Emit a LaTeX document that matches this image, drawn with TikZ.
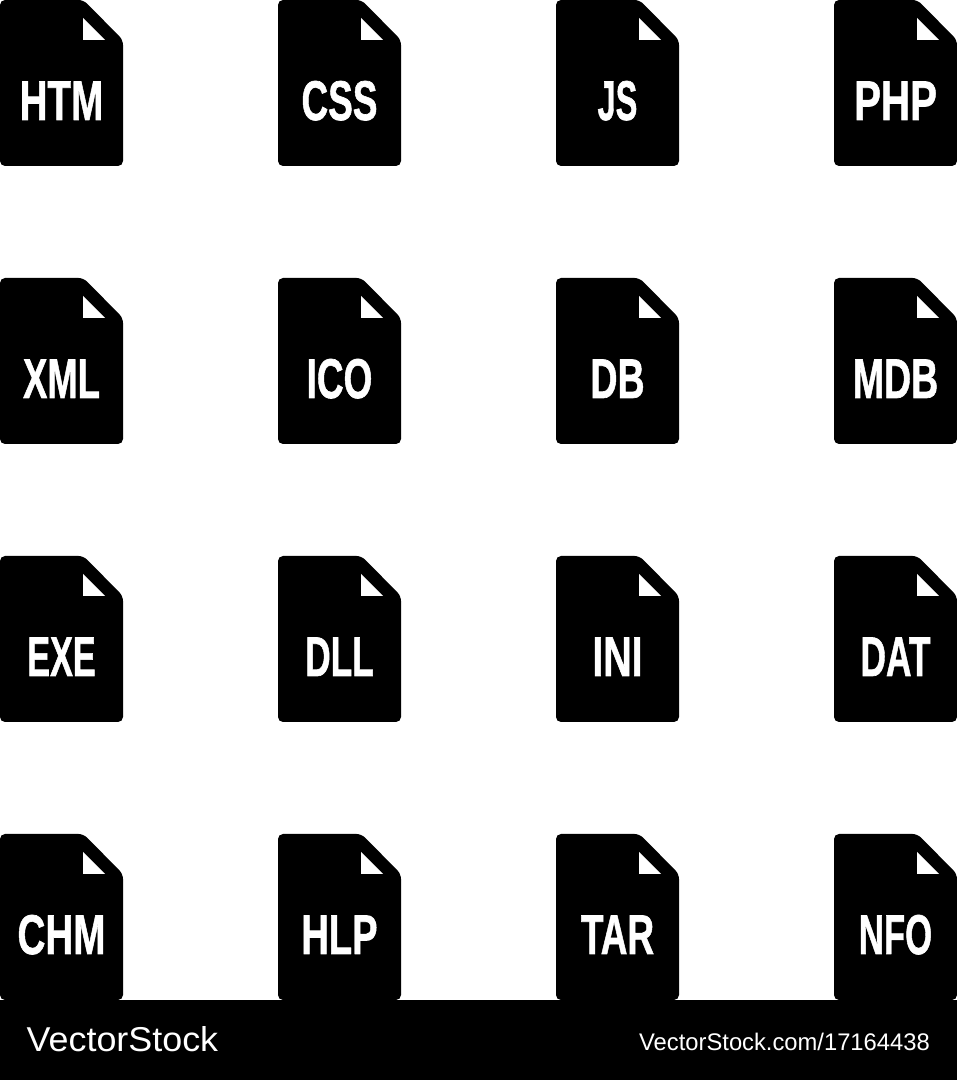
\documentclass[tikz,border=0pt]{standalone}
\usepackage{fontspec}
\setmainfont{Liberation Sans}
\newfontfamily\labelfont[FakeBold=1.2]{Liberation Sans Bold}
\tikzset{
  sheet/.style={fill=black, rounded corners=5pt},
  fold/.style={fill=white},
  extlabel/.style={text=white, anchor=base, inner sep=0pt, font=\labelfont\fontsize{56}{60}\selectfont},
  brand/.style={text=white, anchor=base west, inner sep=0pt}
}
\begin{document}
\begin{tikzpicture}[x=1pt,y=1pt]
        \useasboundingbox (0,0) rectangle (957,1080);
        \fill[white] (0,0) rectangle (957,1080);
        \foreach \lbl/\sx/\col/\row in {HTM/0.69/0/0, CSS/0.66/278/0, JS/0.58/556/0, PHP/0.72/834/0,
            XML/0.65/0/278, ICO/0.66/278/278, DB/0.67/556/278, MDB/0.67/834/278,
            EXE/0.61/0/556, DLL/0.63/278/556, INI/0.7/556/556, DAT/0.63/834/556,
            CHM/0.69/0/834, HLP/0.68/278/834, TAR/0.66/556/834, NFO/0.62/834/834}
        {
        \begin{scope}[shift={(\col,1080-\row)}]
        \path[sheet] (0,-166) -- (0,0) -- (83.5,0) -- (123,-40) -- (123,-166) -- cycle;
        \path[fold] (83,-18) -- (105,-40) -- (83,-40) -- cycle;
        \node[extlabel, xscale=\sx] (\lbl) at (61.5,-120) {\lbl};
        \end{scope}
        }
        \fill[black] (0,0) rectangle (957,80);
        \node[brand, xscale=1.04, font=\fontsize{34.5}{36}\selectfont] (logo) at (26.5,28) {VectorStock};
        \node[brand, xscale=0.99, font=\fontsize{24}{26}\selectfont] (url) at (639,29) {VectorStock.com/17164438};
\end{tikzpicture}
\end{document}
